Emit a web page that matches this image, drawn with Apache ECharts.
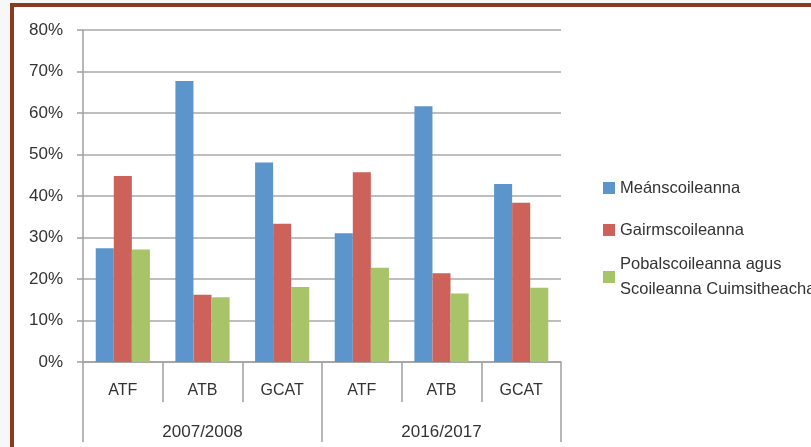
<!DOCTYPE html>
<html>
<head>
<meta charset="utf-8">
<script src="https://cdn.jsdelivr.net/npm/echarts@6/dist/echarts.min.js"></script>
<style>
html,body{margin:0;padding:0;background:#f7f7f7;}
#frame{position:absolute;left:10px;top:3px;width:820px;height:460px;border-left:4px solid #8a3a20;border-top:4px solid #8a3a20;background:#fff;}
#chart{position:absolute;left:0;top:0;width:811px;height:447px;}
</style>
</head>
<body>
<div id="frame"></div>
<div id="chart"></div>
<script>
const categories = ['ATF','ATB','GCAT','ATF','ATB','GCAT'];
const years = ['2007/2008','2016/2017'];
const seriesNames = ['Meánscoileanna','Gairmscoileanna','Pobalscoileanna agus\nScoileanna Cuimsitheacha'];
const meanscoileanna = [27.4, 67.7, 48.1, 31.0, 61.6, 42.9];
const gairmscoileanna = [44.8, 16.2, 33.3, 45.7, 21.4, 38.4];
const pobalscoileanna = [27.1, 15.6, 18.1, 22.7, 16.5, 17.9];
const yTicks = [0, 10, 20, 30, 40, 50, 60, 70, 80];

const colors = ['#5b95cb', '#cd625a', '#a8c468'];
const font = 'Liberation Sans, Arial, sans-serif';
const chart = echarts.init(document.getElementById('chart'));
const values = [meanscoileanna, gairmscoileanna, pobalscoileanna];
const legendTops = [173, 215, 247];
chart.setOption({
  animation: false,
  color: colors,
  grid: {left: 83, right: 250, top: 30, bottom: 85, containLabel: false},
  legend: seriesNames.map((n, i) => ({
    data: [n], orient: 'vertical', left: 598, top: legendTops[i],
    itemWidth: 12, itemHeight: 12, itemGap: 6,
    icon: 'rect',
    textStyle: {fontFamily: font, fontSize: 16.5, color: '#333', lineHeight: i === 2 ? 25 : 20}
  })),
  xAxis: [{
    type: 'category', data: categories, position: 'bottom',
    axisLine: {show: true, lineStyle: {color: '#a0a0a0', width: 1.5}},
    axisTick: {show: true, length: 40, interval: 0, lineStyle: {color: '#a0a0a0', width: 1.5}},
    axisLabel: {margin: 21, interval: 0, fontFamily: font, fontSize: 16, color: '#333'}
  }, {
    type: 'category', data: years, position: 'bottom', gridIndex: 0,
    axisLine: {show: false},
    axisTick: {show: true, length: 80, interval: 0, lineStyle: {color: '#a0a0a0', width: 1.5}},
    axisLabel: {margin: 62, interval: 0, fontFamily: font, fontSize: 17, color: '#333'}
  }],
  yAxis: {
    type: 'value', min: yTicks[0], max: yTicks[yTicks.length - 1], interval: 10,
    axisLine: {show: true, lineStyle: {color: '#a0a0a0', width: 1.5}},
    axisTick: {show: true, length: 6, lineStyle: {color: '#a0a0a0', width: 1.5}},
    splitLine: {show: true, lineStyle: {color: '#a8a8a8', width: 1.5}},
    axisLabel: {margin: 20, padding: [6, 0, 0, 0], fontFamily: font, fontSize: 17, color: '#333', formatter: '{value}%'}
  },
  series: seriesNames.map((n, i) => ({
    name: n, type: 'bar', xAxisIndex: 0, data: values[i],
    barGap: 0, barCategoryGap: '32%',
    itemStyle: {color: colors[i]}
  }))
});
</script>
</body>
</html>
